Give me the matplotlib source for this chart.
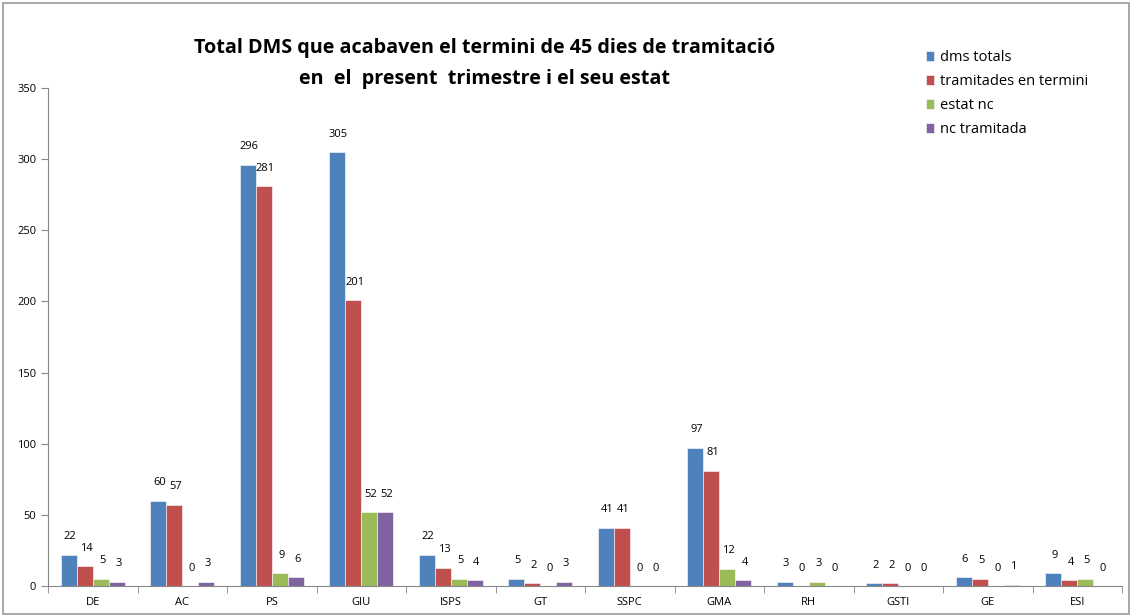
import matplotlib.pyplot as plt
import numpy as np
from matplotlib.patches import Rectangle

plt.rcParams['font.family'] = ['Open Sans', 'DejaVu Sans']

categories = ['DE', 'AC', 'PS', 'GIU', 'ISPS', 'GT', 'SSPC', 'GMA', 'RH', 'GSTI', 'GE', 'ESI']
dms_totals = [22, 60, 296, 305, 22, 5, 41, 97, 3, 2, 6, 9]
tramitades = [14, 57, 281, 201, 13, 2, 41, 81, 0, 2, 5, 4]
estat_nc = [5, 0, 9, 52, 5, 0, 0, 12, 3, 0, 0, 5]
nc_tramitada = [3, 3, 6, 52, 4, 3, 0, 4, 0, 0, 1, 0]

series = [
    ('dms totals', dms_totals, '#4F81BD'),
    ('tramitades en termini', tramitades, '#C0504D'),
    ('estat nc', estat_nc, '#9BBB59'),
    ('nc tramitada', nc_tramitada, '#8064A2'),
]

fig = plt.figure(figsize=(11.32, 6.16), dpi=100)
fig.patches.append(Rectangle((0.003, 0.003), 0.994, 0.992, transform=fig.transFigure,
                             fill=False, edgecolor='#9a9a9a', linewidth=1.2))
ax = fig.add_axes([0.0424, 0.0487, 0.9488, 0.8084])

x = np.arange(len(categories))
w = 0.18
for i, (name, vals, col) in enumerate(series):
    pos = x + (i - 1.5) * w
    ax.bar(pos, vals, width=w, color=col, edgecolor='white', linewidth=0.4, label=name)
    for p, v in zip(pos, vals):
        ax.annotate(str(v), (p, v), xytext=(1, 9), textcoords='offset points',
                    ha='center', va='bottom', fontsize=8)

ax.set_xlim(-0.5, len(categories) - 0.5)
ax.set_ylim(0, 350)
ax.set_yticks(range(0, 351, 50))
ax.set_xticks(x)
ax.set_xticklabels(categories)
ax.set_xticks(np.arange(-0.5, len(categories), 1), minor=True)
ax.tick_params(axis='x', which='major', length=0, labelsize=8, pad=8)
ax.tick_params(axis='x', which='minor', length=5, color='#888888', direction='out')
ax.tick_params(axis='y', labelsize=8, length=5, color='#888888', direction='out')
for s in ['top', 'right']:
    ax.spines[s].set_visible(False)
for s in ['left', 'bottom']:
    ax.spines[s].set_color('#888888')

fig.text(0.428, 0.897, 'Total DMS que acabaven el termini de 45 dies de tramitació\nen  el  present  trimestre i el seu estat',
         ha='center', va='center', fontsize=14.2, fontweight='bold', linespacing=1.75)

ax.legend(loc='upper left', bbox_to_anchor=(0.806, 0.94), bbox_transform=fig.transFigure,
          frameon=False, fontsize=10.5, handlelength=0.6, handleheight=0.6,
          handletextpad=0.4, labelspacing=0.62)

fig.savefig('out.png', dpi=100)
